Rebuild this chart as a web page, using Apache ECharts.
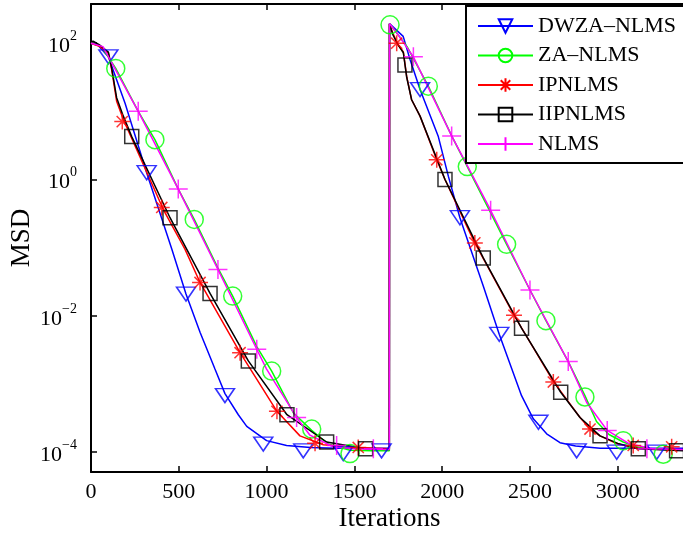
<!DOCTYPE html>
<html>
<head>
<meta charset="utf-8">
<script src="https://cdn.jsdelivr.net/npm/echarts@6/dist/echarts.min.js"></script>
<style>
html, body { margin: 0; padding: 0; background: #fff; }
#grafica { width: 683px; height: 535px; }
</style>
</head>
<body>
<div id="grafica"></div>
<script>
// curvas: iteracion / log10(MSD)
var nombres = ['DWZA\u2013NLMS', 'ZA\u2013NLMS', 'IPNLMS', 'IIPNLMS', 'NLMS'];
var colores = ['#0000ff', '#00ff00', '#ff0000', '#000000', '#ff00ff'];

var dwza_x = [0, 40, 99, 194, 317, 460, 541, 621, 706, 763, 839, 887, 1000, 1114, 1250, 1400, 1699, 1700, 1778, 1817, 1874, 1978, 2035, 2101, 2234, 2325, 2452, 2519, 2595, 2671, 2760, 2900, 3400];
var dwza_y = [2.0, 1.97, 1.80, 1.12, 0.10, -1.02, -1.68, -2.24, -2.78, -3.14, -3.45, -3.62, -3.83, -3.90, -3.93, -3.94, -3.94, 2.29, 2.10, 1.76, 1.32, 0.63, 0.05, -0.56, -1.56, -2.27, -3.17, -3.51, -3.73, -3.86, -3.91, -3.94, -3.94];
var dwza_mx = [99, 317, 541, 763, 981, 1209, 1437, 1655, 1874, 2101, 2325, 2548, 2766, 2994, 3222];
var dwza_my = [1.80, 0.10, -1.68, -3.17, -3.88, -3.98, -4.02, -3.98, 1.32, -0.56, -2.27, -3.56, -3.98, -4.0, -4.0];

var za_x = [0, 60, 141, 269, 364, 497, 588, 723, 807, 944, 1029, 1152, 1257, 1350, 1475, 1600, 1699, 1700, 1800, 1921, 2054, 2143, 2367, 2500, 2591, 2718, 2813, 2879, 2950, 3031, 3120, 3250, 3400];
var za_y = [2.0, 1.95, 1.63, 1.0, 0.585, -0.14, -0.585, -1.30, -1.71, -2.45, -2.81, -3.42, -3.68, -3.88, -3.97, -3.98, -3.98, 2.29, 1.95, 1.37, 0.64, 0.19, -0.95, -1.62, -2.07, -2.67, -3.17, -3.55, -3.74, -3.85, -3.93, -3.96, -3.97];
var za_mx = [141, 364, 588, 807, 1029, 1257, 1475, 1703, 1921, 2143, 2367, 2591, 2813, 3031, 3259];
var za_my = [1.63, 0.585, -0.585, -1.71, -2.81, -3.66, -4.02, 2.27, 1.37, 0.19, -0.95, -2.07, -3.19, -3.83, -4.03];

var ip_x = [0, 51, 99, 118, 146, 184, 412, 535, 621, 849, 1059, 1190, 1323, 1522, 1699, 1700, 1720, 1748, 1779, 1798, 1826, 1874, 1969, 2016, 2149, 2186, 2409, 2633, 2785, 2842, 2899, 3000, 3117, 3400];
var ip_y = [2.0, 1.95, 1.85, 1.61, 1.15, 0.88, -0.44, -1.02, -1.51, -2.54, -3.40, -3.76, -3.89, -3.93, -3.95, 2.28, 2.14, 1.98, 1.87, 1.51, 1.17, 0.93, 0.29, 0.0, -0.73, -0.93, -1.99, -2.96, -3.49, -3.66, -3.76, -3.88, -3.94, -3.97];
var ip_mx = [178, 403, 621, 849, 1059, 1276, 1522, 1741, 1969, 2186, 2409, 2633, 2842, 3088, 3307];
var ip_my = [0.85, -0.41, -1.51, -2.54, -3.40, -3.87, -3.93, 2.0, 0.29, -0.93, -1.99, -2.97, -3.66, -3.90, -3.92];

var iip_x = [0, 12, 51, 99, 118, 146, 184, 232, 450, 678, 896, 1116, 1342, 1564, 1699, 1700, 1720, 1748, 1779, 1798, 1826, 1874, 2016, 2234, 2452, 2675, 2785, 2899, 3000, 3117, 3400];
var iip_y = [2.02, 2.03, 1.97, 1.87, 1.63, 1.20, 0.93, 0.63, -0.56, -1.67, -2.66, -3.45, -3.85, -3.95, -3.96, 2.28, 2.12, 1.98, 1.86, 1.50, 1.17, 0.93, 0.0, -1.15, -2.18, -3.12, -3.49, -3.76, -3.87, -3.95, -3.98];
var iip_mx = [232, 450, 678, 896, 1116, 1342, 1564, 1788, 2016, 2234, 2452, 2675, 2899, 3117, 3335];
var iip_my = [0.63, -0.56, -1.67, -2.66, -3.45, -3.85, -3.95, 1.68, 0.0, -1.15, -2.18, -3.12, -3.76, -3.95, -3.98];

var nlms_x = [0, 68, 269, 497, 723, 944, 1000, 1171, 1247, 1378, 1500, 1699, 1700, 1750, 1836, 2054, 2276, 2500, 2718, 2823, 2940, 3069, 3200, 3400];
var nlms_y = [2.0, 1.95, 1.0, -0.14, -1.32, -2.49, -2.78, -3.49, -3.75, -3.92, -3.95, -3.96, 2.29, 2.12, 1.80, 0.64, -0.45, -1.62, -2.67, -3.27, -3.68, -3.88, -3.95, -3.96];
var nlms_mx = [269, 497, 723, 944, 1171, 1399, 1608, 1836, 2054, 2276, 2500, 2718, 2940, 3166];
var nlms_my = [1.0, -0.14, -1.32, -2.49, -3.49, -3.90, -3.95, 1.80, 0.64, -0.45, -1.62, -2.67, -3.68, -3.95];

var ytick_exp = [-4, -2, 0, 2];
var xtick_step = 500;

var curvas = [[dwza_x, dwza_y, dwza_mx, dwza_my], [za_x, za_y, za_mx, za_my], [ip_x, ip_y, ip_mx, ip_my], [iip_x, iip_y, iip_mx, iip_my], [nlms_x, nlms_y, nlms_mx, nlms_my]];

var simbolos = [
  {symbol: 'triangle', rotate: 180, size: [19, 14]},
  {symbol: 'circle', rotate: 0, size: 18},
  {symbol: 'path://M0,-1L0,1M-1,0L1,0M-0.7,-0.7L0.7,0.7M-0.7,0.7L0.7,-0.7', rotate: 0, size: 16},
  {symbol: 'rect', rotate: 0, size: 14},
  {symbol: 'path://M0,-1L0,1M-1,0L1,0', rotate: 0, size: 19}
];

function pares(xs, ys) {
  var out = [];
  for (var i = 0; i < xs.length; i++) {
    out.push([xs[i], Math.pow(10, ys[i])]);
  }
  return out;
}

var yticks = ytick_exp.map(function (e) { return Math.pow(10, e); });
var fuente = 'Liberation Serif';

var series = [];
for (var i = 0; i < curvas.length; i++) {
  var s = simbolos[i];
  series.push({
    name: nombres[i],
    type: 'line',
    data: pares(curvas[i][0], curvas[i][1]),
    showSymbol: false,
    symbol: s.symbol,
    symbolRotate: s.rotate,
    lineStyle: {color: colores[i], width: 1.5},
    itemStyle: {color: 'transparent', borderColor: colores[i], borderWidth: 1.5},
    silent: true,
    z: 2
  });
  series.push({
    name: nombres[i] + ' m',
    type: 'scatter',
    data: pares(curvas[i][2], curvas[i][3]),
    symbol: s.symbol,
    symbolRotate: s.rotate,
    symbolSize: s.size,
    itemStyle: {color: 'transparent', borderColor: colores[i], borderWidth: 1.5},
    silent: true,
    z: 2
  });
}

var ejeX = {
  type: 'value',
  min: 0,
  max: 3400,
  interval: xtick_step,
  axisLine: {onZero: false, lineStyle: {color: '#000', width: 2}},
  axisTick: {inside: true, length: 6, lineStyle: {color: '#000', width: 1.5}},
  splitLine: {show: false}
};

var echarte = echarts.init(document.getElementById('grafica'));
var grafica = {
  animation: false,
  grid: {left: 91, top: 4, width: 597, height: 468, containLabel: false, outerBoundsMode: 'none'},
  legend: {
    data: nombres,
    orient: 'vertical',
    left: 466,
    top: 6,
    itemWidth: 55,
    itemHeight: 17,
    itemGap: 7.5,
    padding: [9, 8, 8, 11],
    backgroundColor: '#fff',
    borderColor: '#000',
    borderWidth: 2,
    selectedMode: false,
    textStyle: {fontFamily: fuente, fontSize: 22, color: '#000'}
  },
  xAxis: [
    Object.assign({}, ejeX, {
      position: 'bottom',
      axisLabel: {
        color: '#000', fontFamily: fuente, fontSize: 22, margin: 9, showMaxLabel: false,
        formatter: function (v) { return String(v); }
      },
      name: 'Iterations',
      nameLocation: 'middle',
      nameGap: 33,
      nameMoveOverlap: false,
      nameTextStyle: {color: '#000', fontFamily: fuente, fontSize: 27}
    }),
    Object.assign({}, ejeX, {position: 'top', axisLabel: {show: false}})
  ],
  yAxis: {
    type: 'log',
    logBase: 10,
    min: Math.pow(10, -4.29),
    max: Math.pow(10, 2.575),
    axisLine: {lineStyle: {color: '#000', width: 2}},
    axisTick: {inside: true, length: 6, customValues: yticks, lineStyle: {color: '#000', width: 1.5}},
    axisLabel: {
      customValues: yticks,
      margin: 14,
      formatter: function (v) {
        var e = Math.round(Math.log10(v));
        return '{b|10}{e|' + String(e).replace('-', '\u2212') + '}';
      },
      rich: {
        b: {fontFamily: fuente, fontSize: 22, color: '#000', lineHeight: 28, verticalAlign: 'bottom'},
        e: {fontFamily: fuente, fontSize: 14, color: '#000', lineHeight: 28, verticalAlign: 'top'}
      }
    },
    splitLine: {show: false},
    name: 'MSD',
    nameLocation: 'middle',
    nameGap: 56,
    nameMoveOverlap: false,
    nameRotate: 90,
    nameTextStyle: {color: '#000', fontFamily: fuente, fontSize: 27}
  },
  series: series
};
echarte.setOption(grafica);
</script>
</body>
</html>
